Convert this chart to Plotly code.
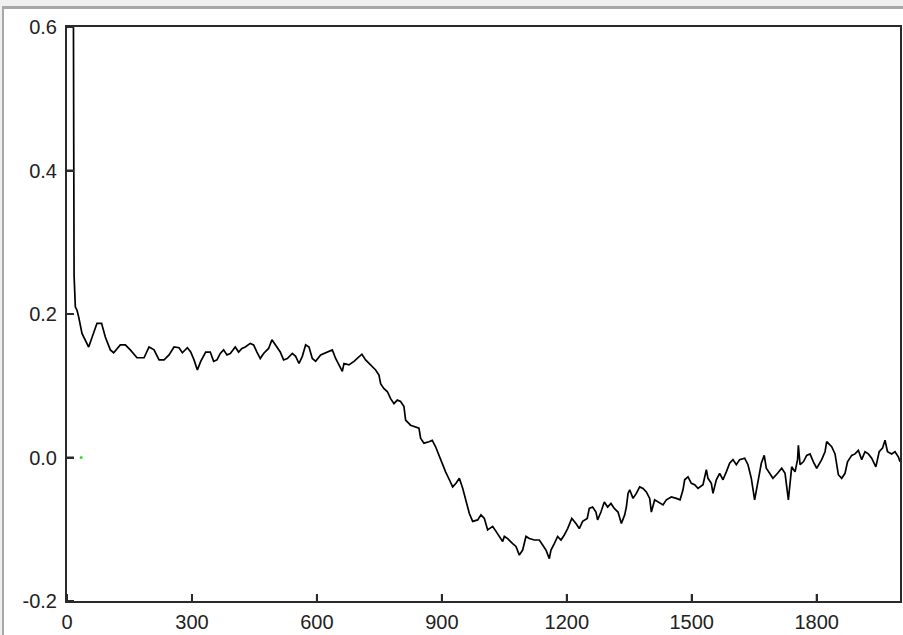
import plotly.graph_objects as go

# values
steps = [
    14, 15, 17, 20, 24, 28, 36, 52, 64, 72, 83, 92, 104, 112, 128, 140, 152, 168,
    185, 197, 209, 221, 233, 245, 257, 269, 277, 289, 297, 305, 313, 321, 333, 344,
    352, 360, 368, 376, 384, 392, 404, 412, 420, 428, 440, 448, 456, 464, 472, 484,
    492, 500, 512, 520, 529, 541, 549, 557, 565, 573, 581, 589, 597, 609, 617, 629,
    637, 645, 653, 661, 665, 677, 689, 701, 708, 717, 729, 741, 749, 753, 761, 769,
    777, 785, 793, 801, 809, 813, 825, 837, 845, 849, 857, 869, 877, 885, 893, 902,
    909, 918, 926, 934, 942, 950, 958, 966, 974, 986, 994, 1002, 1010, 1022, 1030,
    1038, 1046, 1050, 1058, 1070, 1078, 1086, 1094, 1102, 1110, 1122, 1134, 1142,
    1150, 1158, 1162, 1170, 1178, 1186, 1194, 1202, 1212, 1222, 1230, 1238, 1249,
    1254, 1262, 1270, 1274, 1282, 1290, 1298, 1306, 1314, 1323, 1331, 1339, 1343,
    1347, 1351, 1359, 1367, 1375, 1383, 1391, 1399, 1403, 1411, 1419, 1431, 1439,
    1451, 1463, 1472, 1479, 1483, 1491, 1499, 1507, 1515, 1527, 1535, 1539, 1547,
    1551, 1559, 1567, 1575, 1583, 1591, 1599, 1607, 1615, 1627, 1635, 1643, 1651,
    1659, 1667, 1674, 1679, 1687, 1695, 1706, 1716, 1724, 1732, 1740, 1748, 1754,
    1756, 1760, 1768, 1776, 1784, 1792, 1800, 1812, 1820, 1824, 1836, 1844, 1852,
    1860, 1868, 1874, 1884, 1892, 1900, 1908, 1916, 1924, 1932, 1942, 1950, 1958,
    1964, 1970, 1980, 1988, 1996, 2000,
]
values = [
    0.95, 0.447, 0.254, 0.21, 0.205, 0.196, 0.173, 0.154, 0.173, 0.187, 0.187, 0.168,
    0.150, 0.146, 0.157, 0.157, 0.150, 0.139, 0.139, 0.154, 0.150, 0.136, 0.136, 0.143,
    0.154, 0.153, 0.146, 0.153, 0.147, 0.136, 0.122, 0.134, 0.147, 0.147,
    0.134, 0.136, 0.145, 0.150, 0.143, 0.145, 0.154, 0.147, 0.152, 0.154, 0.159, 0.157,
    0.147, 0.138, 0.145, 0.152, 0.164, 0.157, 0.147, 0.136, 0.138, 0.145, 0.141, 0.131,
    0.141, 0.157, 0.154, 0.138, 0.134, 0.143, 0.145, 0.147, 0.150, 0.138, 0.129, 0.120,
    0.131, 0.129, 0.134, 0.141, 0.144, 0.136, 0.129, 0.122, 0.115, 0.103, 0.096, 0.092,
    0.082, 0.075, 0.080, 0.078, 0.071, 0.052, 0.045, 0.043, 0.041, 0.027, 0.020, 0.022,
    0.024, 0.015, 0.003, -0.008, -0.020, -0.031, -0.041, -0.036, -0.029, -0.043, -0.059,
    -0.078, -0.089, -0.087, -0.080, -0.085, -0.101, -0.096, -0.103, -0.110, -0.117,
    -0.110, -0.113, -0.120, -0.124, -0.136, -0.129, -0.110, -0.113, -0.115, -0.115,
    -0.122, -0.129, -0.141, -0.129, -0.120, -0.110, -0.115, -0.108, -0.099, -0.085,
    -0.092, -0.099, -0.089, -0.085, -0.071, -0.069, -0.076, -0.087, -0.076, -0.062,
    -0.069, -0.064, -0.071, -0.076, -0.092, -0.080, -0.069, -0.050, -0.045, -0.057,
    -0.050, -0.041, -0.043, -0.048, -0.057, -0.076, -0.059, -0.062, -0.066, -0.059,
    -0.055, -0.057, -0.059, -0.045, -0.031, -0.027, -0.036, -0.038, -0.043, -0.038,
    -0.017, -0.029, -0.036, -0.050, -0.031, -0.022, -0.031, -0.020, -0.008, -0.003,
    -0.010, -0.003, -0.001, -0.010, -0.029, -0.059, -0.031, -0.008, 0.003, -0.015,
    -0.022, -0.029, -0.022, -0.015, -0.022, -0.059, -0.013, -0.020, -0.003, 0.017,
    -0.010, -0.006, 0.003, 0.005, -0.006, -0.015, -0.003, 0.008, 0.022, 0.015, 0.005,
    -0.024, -0.029, -0.022, -0.006, 0.003, 0.005, 0.010, -0.003, 0.008, 0.005, -0.001,
    -0.013, 0.008, 0.013, 0.024, 0.008, 0.005, 0.008, 0.001, -0.006,
]

x_ticks = [0, 300, 600, 900, 1200, 1500, 1800]
y_ticks = [-0.2, 0.0, 0.2, 0.4, 0.6]
y_labels = ["-0.2", "0.0", "0.2", "0.4", "0.6"]

W, H = 903, 635
L, R, T, B = 67, 3, 27, 34
TICK = 7  # tick length, px


def px(x):
    return (x - L) / (W - L - R)


def py(y):
    return (H - B - y) / (H - T - B)


fig = go.Figure()
fig.add_trace(go.Scatter(
    x=steps, y=values, mode="lines",
    line=dict(color="black", width=1.7),
    showlegend=False, hoverinfo="skip",
))
# the lone green dot near the origin
fig.add_trace(go.Scatter(
    x=[34], y=[0.0], mode="markers",
    marker=dict(color="#33dd33", size=3),
    showlegend=False, hoverinfo="skip",
))

axis_style = dict(
    showgrid=False, zeroline=False, showline=True, mirror=True,
    linecolor="#2a2a2a", linewidth=2, automargin=False,
    ticks="inside", ticklen=TICK, tickcolor="#2a2a2a", tickwidth=2,
    tickfont=dict(family="Liberation Sans, Arial, sans-serif", size=20, color="#222"),
)
fig.update_xaxes(range=[0, 2000], tickvals=x_ticks, ticklabelstandoff=2, **axis_style)
fig.update_yaxes(range=[-0.2, 0.6], tickvals=y_ticks, ticktext=y_labels,
                 ticklabelstandoff=4, **axis_style)

# window frame remnants along top and left edges
shapes = [
    dict(type="rect", xref="paper", yref="paper", x0=px(0), x1=px(W), y0=py(6), y1=py(0),
         fillcolor="#f0f0f0", line_width=0, layer="below"),
    dict(type="rect", xref="paper", yref="paper", x0=px(0), x1=px(W), y0=py(9), y1=py(6),
         fillcolor="#a8a8a8", line_width=0, layer="below"),
    dict(type="rect", xref="paper", yref="paper", x0=px(0), x1=px(2), y0=py(H), y1=py(6),
         fillcolor="#f0f0f0", line_width=0, layer="below"),
    dict(type="rect", xref="paper", yref="paper", x0=px(2), x1=px(4), y0=py(H), y1=py(6),
         fillcolor="#a8a8a8", line_width=0, layer="below"),
]
# short inward tick marks on the left and bottom axes
tick_line = dict(color="#2a2a2a", width=2)
for t in x_ticks:
    shapes.append(dict(type="line", xref="x", yref="paper", x0=t, x1=t,
                       y0=0, y1=TICK / (H - T - B), line=tick_line, layer="above"))
for t in y_ticks:
    shapes.append(dict(type="line", xref="paper", yref="y", x0=0, x1=TICK / (W - L - R),
                       y0=t, y1=t, line=tick_line, layer="above"))

fig.update_layout(
    width=W, height=H,
    margin=dict(l=L, r=R, t=T, b=B, pad=0),
    paper_bgcolor="white", plot_bgcolor="white",
    shapes=shapes,
)

# drop the browser's default body margin so the figure sits at the window corner
fig.write_html("out.html", config={"displayModeBar": False},
               post_script="document.body.style.margin='0';")
